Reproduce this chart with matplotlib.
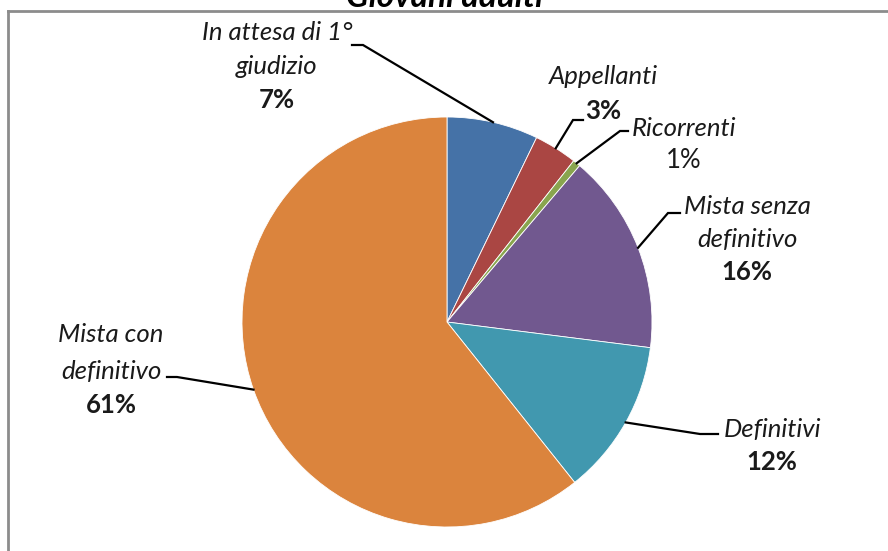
import numpy as np
import matplotlib.pyplot as plt
from matplotlib.lines import Line2D

# dati (quota percentuale per categoria)
categorie = ['In attesa di 1°\ngiudizio', 'Appellanti', 'Ricorrenti',
             'Mista senza\ndefinitivo', 'Definitivi', 'Mista con\ndefinitivo']
valori = [7.2, 3.4, 0.6, 15.8, 12.3, 60.7]
colori = ['#4572A7', '#AA4643', '#89A54E', '#71588F', '#4198AF', '#DB843D']
titolo = 'Giovani adulti'

W, H = 888, 551
FONT = 'Lato'
FS = 18.5

fig = plt.figure(figsize=(W / 100, H / 100), dpi=100)
ax = fig.add_axes([0, 0, 1, 1])

# lavoriamo in pixel, y verso l'alto
cx, cy, r = 447, H - 322, 205
wedges, _ = ax.pie(valori, colors=colori, startangle=90, counterclock=False,
                   center=(cx, cy), radius=r,
                   wedgeprops=dict(edgecolor='white', linewidth=0.6))
ax.set_xlim(0, W)
ax.set_ylim(0, H)
ax.set_aspect('equal')
ax.axis('off')

# posizione etichette (centro testo, righe in pixel dall'alto) e linee guida
layout = [
    dict(x=277, rows=[32, 66, 100], elbow=(363, 45), end=352),
    dict(x=603, rows=[77, 111], elbow=(573, 120), end=583),
    dict(x=684, rows=[128, 160], elbow=(620, 131), end=628),
    dict(x=747, rows=[207, 240, 272], elbow=(668, 213), end=680),
    dict(x=772, rows=[430, 462], elbow=(700, 434), end=718),
    dict(x=111, rows=[335, 372, 405], elbow=(177, 377), end=167),
]

for i, (w, lab, v, lo) in enumerate(zip(wedges, categorie, valori, layout)):
    righe = lab.split('\n')
    for riga, yy in zip(righe, lo['rows']):
        ax.text(lo['x'], H - yy, riga, ha='center', va='center', fontsize=FS,
                style='italic', family=FONT, color='#1a1a1a')
    peso = 'normal' if categorie[i] == 'Ricorrenti' else 'bold'
    ax.text(lo['x'], H - lo['rows'][-1], f'{round(v)}%', ha='center',
            va='center', fontsize=FS, fontweight=peso, family=FONT,
            color='#1a1a1a')
    # punto di aggancio sul bordo della fetta
    ang = np.deg2rad((w.theta1 + w.theta2) / 2)
    ax_, ay_ = cx + r * np.cos(ang), cy + r * np.sin(ang)
    ex, ey = lo['elbow']
    ax.plot([ax_, ex, lo['end']], [ay_, H - ey, H - ey], color='black', lw=1.6,
            solid_joinstyle='miter')

# titolo tagliato in alto
ax.text(445, H - 7, titolo, ha='center', va='baseline', fontsize=24,
        fontweight='bold', style='italic', family=FONT, clip_on=False)

# cornice grigia (solo lato sinistro e superiore visibili)
fig.add_artist(Line2D([8 / W, 1], [1 - 11 / H, 1 - 11 / H], color='#8c8c8c',
                      lw=2, transform=fig.transFigure))
fig.add_artist(Line2D([8 / W, 8 / W], [0, 1 - 11 / H], color='#8c8c8c',
                      lw=2, transform=fig.transFigure))

fig.savefig('out.png', dpi=100)
